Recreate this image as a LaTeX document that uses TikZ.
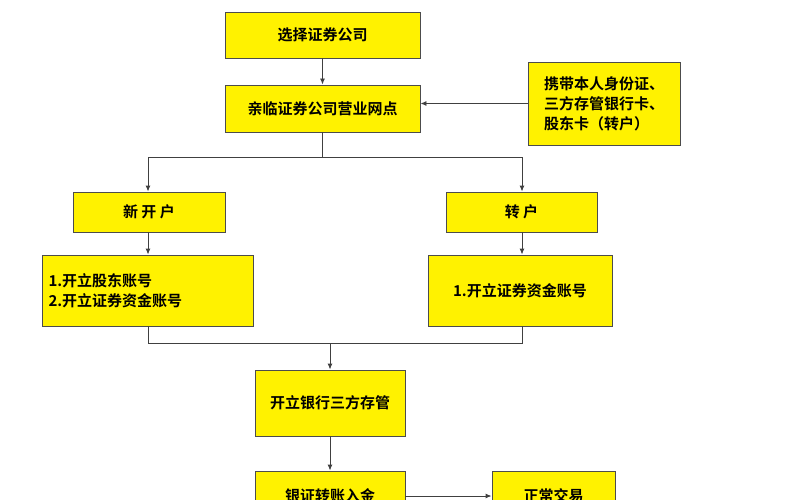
\documentclass[tikz,border=0pt]{standalone}
\usepackage{fontspec}
\usetikzlibrary{arrows.meta}
\newfontfamily\cjk{Noto Sans CJK SC}[BoldFont={Noto Sans CJK SC Bold}]
\begin{document}
\begin{tikzpicture}[x=1pt,y=-1pt,
 bx/.style={draw=black!70,fill=yellow,line width=0.9pt,font=\cjk\bfseries\fontsize{15}{20}\selectfont,inner sep=0pt},
 ar/.style={-{Latex[length=6pt,width=5pt]},draw=black!75,line width=0.9pt},
 ln/.style={draw=black!75,line width=0.9pt}]
\useasboundingbox (0,0) rectangle (800,500);
\clip (0,0) rectangle (800,500);
\node[bx,minimum width=195pt,minimum height=46pt] (a) at (322.5,35) {选择证券公司};
\node[bx,minimum width=195pt,minimum height=47pt] (b) at (322.5,108.5) {亲临证券公司营业网点};
\node[bx,minimum width=152pt,minimum height=83pt,align=left] (c) at (604,103.5) {携带本人身份证、\\三方存管银行卡、\\股东卡（转户）};
\node[bx,minimum width=152pt,minimum height=40pt] (d) at (149,212) {新 开 户};
\node[bx,minimum width=151pt,minimum height=40pt] (e) at (521.5,212) {转 户};
\node[bx,minimum width=211pt,minimum height=71pt,align=left,text width=198pt] (f) at (147.5,290.5) {1.开立股东账号\\2.开立证券资金账号};
\node[bx,minimum width=184pt,minimum height=71pt] (g) at (520,290.5) {1.开立证券资金账号};
\node[bx,minimum width=150pt,minimum height=66pt] (h) at (330,403) {开立银行三方存管};
\node[bx,minimum width=150pt,minimum height=50pt] (i) at (330,496) {银证转账入金};
\node[bx,minimum width=123pt,minimum height=50pt] (j) at (553.5,496) {正常交易};
\draw[ar] (a) -- (b);
\draw[ar] (c.west) -- (c.west -| b.east);
\coordinate (s) at (322.5,157);
\draw[ln] (b.south) -- (s);
\draw[ln] (148,157) -- (522,157);
\draw[ar] (148,157) -- (d.north -| 148,0);
\draw[ar] (522,157) -- (e.north -| 522,0);
\draw[ar] (d.south -| 148,0) -- (f.north -| 148,0);
\draw[ar] (e.south -| 522,0) -- (g.north -| 522,0);
\draw[ln] (f.south -| 148,0) -- (148,343) -- (522,343) -- (g.south -| 522,0);
\draw[ar] (330,343) -- (h.north);
\draw[ar] (h) -- (i);
\draw[ar] (i.east |- 0,496) -- (j.west |- 0,496);
\end{tikzpicture}
\end{document}
